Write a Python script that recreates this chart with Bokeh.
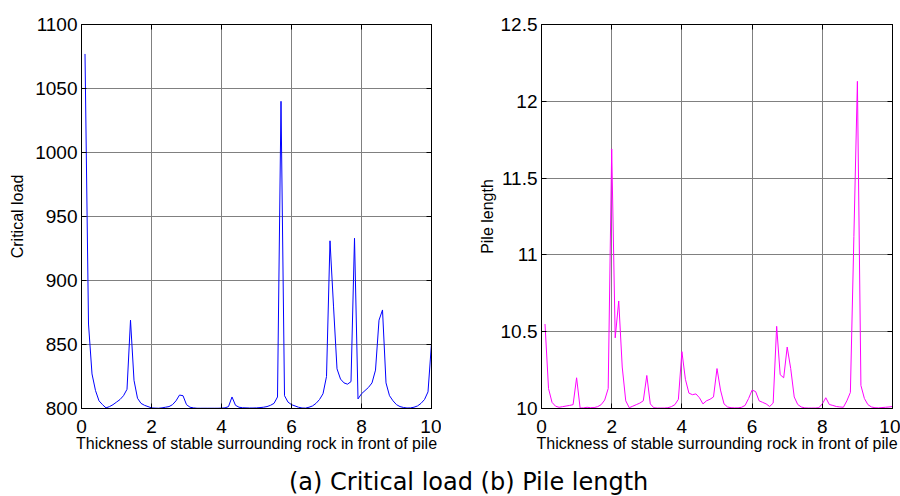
from bokeh.plotting import figure
from bokeh.models import LinearAxis, FixedTicker, Range1d, Div
from bokeh.layouts import row, column
from bokeh.embed import file_html
from bokeh.resources import INLINE

# ---------------- data ----------------
thickness = [
    0.1, 0.2, 0.3, 0.4, 0.5, 0.6, 0.7, 0.8, 0.9, 1.0,
    1.1, 1.2, 1.3, 1.4, 1.5, 1.6, 1.7, 1.8, 1.9, 2.0,
    2.1, 2.2, 2.3, 2.4, 2.5, 2.6, 2.7, 2.8, 2.9, 3.0,
    3.1, 3.2, 3.3, 3.4, 3.5, 3.6, 3.7, 3.8, 3.9, 4.0,
    4.1, 4.2, 4.3, 4.4, 4.5, 4.6, 4.7, 4.8, 4.9, 5.0,
    5.1, 5.2, 5.3, 5.4, 5.5, 5.6, 5.7, 5.8, 5.9, 6.0,
    6.1, 6.2, 6.3, 6.4, 6.5, 6.6, 6.7, 6.8, 6.9, 7.0,
    7.1, 7.2, 7.3, 7.4, 7.5, 7.6, 7.7, 7.8, 7.9, 8.0,
    8.1, 8.2, 8.3, 8.4, 8.5, 8.6, 8.7, 8.8, 8.9, 9.0,
    9.1, 9.2, 9.3, 9.4, 9.5, 9.6, 9.7, 9.8, 9.9, 10.0,
]

critical_load = [
    1077, 866, 827, 814, 806, 803, 800.5, 801.5, 803, 805,
    807, 810, 815, 869, 822, 808, 804, 802.5, 801.5, 800.5,
    800.3, 800.2, 800.5, 801, 801.5, 803, 806, 810.5, 810, 803,
    801, 800.5, 800.2, 800.2, 800.2, 800.2, 800.2, 800.2, 800.2, 800.3,
    800.5, 801.5, 809, 802.5, 801, 800.6, 800.5, 800.4, 800.4, 800.5,
    800.7, 801, 801.5, 802.5, 804, 809, 1040, 810, 805, 803,
    802, 801, 800.4, 800.3, 801, 802, 804, 807, 811.5, 825,
    931, 880, 831, 823, 820, 819, 821, 933, 807.5, 811.5,
    814, 816.5, 820, 830, 869, 877, 820, 810, 806, 803,
    801.5, 800.8, 800.4, 800.5, 801, 802, 804, 807, 813, 851,
]

pile_length = [
    10.55, 10.13, 10.04, 10.015, 10.008, 10.012, 10.016, 10.02, 10.025, 10.2,
    10.003, 10.004, 10.008, 10.005, 10.006, 10.012, 10.025, 10.055, 10.13, 11.69,
    10.46, 10.70, 10.27, 10.05, 10.005, 10.015, 10.025, 10.035, 10.05, 10.215,
    10.03, 10.005, 10.003, 10.003, 10.003, 10.005, 10.012, 10.025, 10.06, 10.37,
    10.19, 10.10, 10.09, 10.095, 10.07, 10.03, 10.05, 10.06, 10.075, 10.26,
    10.12, 10.03, 10.01, 10.005, 10.004, 10.004, 10.008, 10.02, 10.065, 10.12,
    10.11, 10.05, 10.04, 10.03, 10.013, 10.035, 10.535, 10.22, 10.20, 10.40,
    10.26, 10.075, 10.026, 10.01, 10.004, 10.003, 10.003, 10.003, 10.005, 10.03,
    10.07, 10.026, 10.02, 10.013, 10.01, 10.008, 10.05, 10.105, 11.12, 12.13,
    10.15, 10.065, 10.025, 10.01, 10.005, 10.004, 10.006, 10.008, 10.01, 10.013,
]

x_ticks = [0, 2, 4, 6, 8, 10]
load_ticks = [800, 850, 900, 950, 1000, 1050, 1100]
pile_ticks = [10, 10.5, 11, 11.5, 12, 12.5]
pile_tick_labels = ["10", "10.5", "11", "11.5", "12", "12.5"]

x_label = "Thickness of stable surrounding rock in front of pile"
caption = "(a) Critical load (b) Pile length"

FONT = "Liberation Sans"
GRID = "#808080"


def style(p, xt, yt, ylabel):
    p.xaxis.ticker = FixedTicker(ticks=xt)
    p.yaxis.ticker = FixedTicker(ticks=yt)
    for ax in (p.xaxis[0], p.yaxis[0]):
        ax.major_tick_in = 5
        ax.major_tick_out = 0
        ax.minor_tick_line_color = None
        ax.axis_line_color = "black"
        ax.major_tick_line_color = "black"
        ax.major_label_text_font = FONT
        ax.major_label_text_font_size = "19px"
        ax.major_label_text_color = "black"
        ax.axis_label_text_font = FONT
        ax.axis_label_text_font_size = "16px"
        ax.axis_label_text_font_style = "normal"
        ax.axis_label_text_color = "black"
    p.xaxis.axis_label = x_label
    p.xaxis.major_label_standoff = 11
    p.xaxis.axis_label_standoff = -1
    p.yaxis.axis_label = ylabel
    p.yaxis.major_label_standoff = 4
    p.grid.grid_line_color = GRID
    p.grid.grid_line_width = 1
    p.xgrid.ticker = FixedTicker(ticks=xt)
    p.ygrid.ticker = FixedTicker(ticks=yt)
    p.outline_line_color = "black"
    p.outline_line_width = 1
    # box ticks on top and right (no labels)
    top = LinearAxis(ticker=FixedTicker(ticks=xt), major_tick_in=5, major_tick_out=0,
                     minor_tick_line_color=None, axis_line_color="black",
                     major_label_text_font_size="0px", major_label_text_color=None,
                     major_label_standoff=0)
    right = LinearAxis(ticker=FixedTicker(ticks=yt), major_tick_in=5, major_tick_out=0,
                       minor_tick_line_color=None, axis_line_color="black",
                       major_label_text_font_size="0px", major_label_text_color=None,
                       major_label_standoff=0)
    p.add_layout(top, "above")
    p.add_layout(right, "right")


p1 = figure(width=441, height=464, output_backend="svg", toolbar_location=None,
            x_range=Range1d(0, 10), y_range=Range1d(800, 1100),
            min_border_left=81, min_border_right=10, min_border_top=24, min_border_bottom=56)
p1.line(thickness, critical_load, line_color="#0000ff", line_width=1)
style(p1, x_ticks, load_ticks, "Critical load")
p1.yaxis[0].axis_label_standoff = 6

p2 = figure(width=459, height=464, output_backend="svg", toolbar_location=None,
            x_range=Range1d(0, 10), y_range=Range1d(10, 12.5),
            min_border_left=100, min_border_right=8, min_border_top=24, min_border_bottom=56)
p2.line(thickness, pile_length, line_color="#ff00ff", line_width=1)
style(p2, x_ticks, pile_ticks, "Pile length")
p2.yaxis[0].axis_label_standoff = 2
p2.yaxis[0].major_label_overrides = {t: s for t, s in zip(pile_ticks, pile_tick_labels)}

cap = Div(text=f'<div style="width:615px;padding-left:284px;text-align:left;font-family:\'DejaVu Sans\';'
               f'font-size:24px;line-height:24px;padding-top:1px;color:black;white-space:nowrap">{caption}</div>',
          width=900, height=32)

layout = column(row(p1, p2), cap)
open("out.html", "w").write(file_html(layout, INLINE))
